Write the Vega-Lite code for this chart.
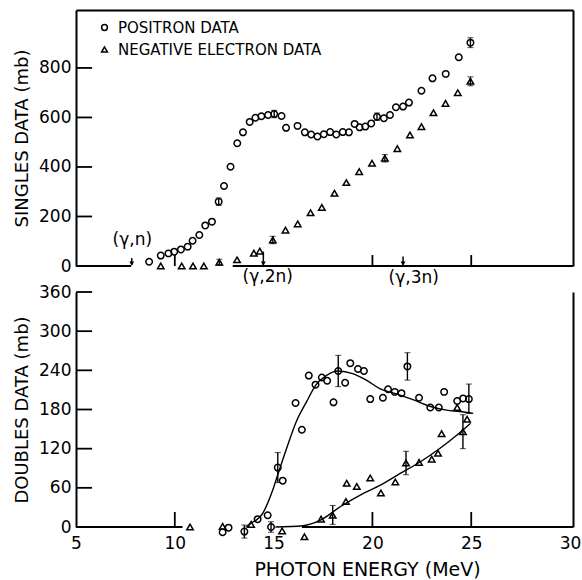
{
  "$schema": "https://vega.github.io/schema/vega-lite/v6.json",
  "background": "white",
  "padding": {"left": 13, "top": 10, "right": 5, "bottom": 5},
  "bounds": "flush",
  "spacing": 26,
  "datasets": {
    "singles": [
      {"E": 8.70, "mb": 17, "series": "POSITRON DATA"},
      {"E": 9.29, "mb": 42, "series": "POSITRON DATA"},
      {"E": 9.68, "mb": 51, "series": "POSITRON DATA"},
      {"E": 9.97, "mb": 58, "series": "POSITRON DATA"},
      {"E": 10.31, "mb": 67, "series": "POSITRON DATA"},
      {"E": 10.65, "mb": 78, "series": "POSITRON DATA"},
      {"E": 10.90, "mb": 102, "series": "POSITRON DATA"},
      {"E": 11.24, "mb": 125, "series": "POSITRON DATA"},
      {"E": 11.54, "mb": 164, "series": "POSITRON DATA"},
      {"E": 11.88, "mb": 179, "series": "POSITRON DATA"},
      {"E": 12.22, "mb": 260, "series": "POSITRON DATA"},
      {"E": 12.49, "mb": 323, "series": "POSITRON DATA"},
      {"E": 12.82, "mb": 401, "series": "POSITRON DATA"},
      {"E": 13.16, "mb": 496, "series": "POSITRON DATA"},
      {"E": 13.45, "mb": 540, "series": "POSITRON DATA"},
      {"E": 13.79, "mb": 582, "series": "POSITRON DATA"},
      {"E": 14.08, "mb": 599, "series": "POSITRON DATA"},
      {"E": 14.38, "mb": 605, "series": "POSITRON DATA"},
      {"E": 14.72, "mb": 610, "series": "POSITRON DATA"},
      {"E": 15.03, "mb": 614, "series": "POSITRON DATA"},
      {"E": 15.40, "mb": 606, "series": "POSITRON DATA"},
      {"E": 15.63, "mb": 558, "series": "POSITRON DATA"},
      {"E": 16.21, "mb": 566, "series": "POSITRON DATA"},
      {"E": 16.58, "mb": 540, "series": "POSITRON DATA"},
      {"E": 16.90, "mb": 531, "series": "POSITRON DATA"},
      {"E": 17.22, "mb": 523, "series": "POSITRON DATA"},
      {"E": 17.54, "mb": 532, "series": "POSITRON DATA"},
      {"E": 17.86, "mb": 541, "series": "POSITRON DATA"},
      {"E": 18.17, "mb": 531, "series": "POSITRON DATA"},
      {"E": 18.50, "mb": 541, "series": "POSITRON DATA"},
      {"E": 18.81, "mb": 540, "series": "POSITRON DATA"},
      {"E": 19.10, "mb": 574, "series": "POSITRON DATA"},
      {"E": 19.35, "mb": 560, "series": "POSITRON DATA"},
      {"E": 19.64, "mb": 563, "series": "POSITRON DATA"},
      {"E": 19.94, "mb": 576, "series": "POSITRON DATA"},
      {"E": 20.23, "mb": 603, "series": "POSITRON DATA"},
      {"E": 20.58, "mb": 597, "series": "POSITRON DATA"},
      {"E": 20.89, "mb": 610, "series": "POSITRON DATA"},
      {"E": 21.19, "mb": 641, "series": "POSITRON DATA"},
      {"E": 21.55, "mb": 644, "series": "POSITRON DATA"},
      {"E": 21.85, "mb": 660, "series": "POSITRON DATA"},
      {"E": 22.48, "mb": 708, "series": "POSITRON DATA"},
      {"E": 23.04, "mb": 758, "series": "POSITRON DATA"},
      {"E": 23.71, "mb": 776, "series": "POSITRON DATA"},
      {"E": 24.37, "mb": 843, "series": "POSITRON DATA"},
      {"E": 24.96, "mb": 902, "series": "POSITRON DATA"},
      {"E": 9.29, "mb": 0, "series": "NEGATIVE ELECTRON DATA"},
      {"E": 10.35, "mb": 0, "series": "NEGATIVE ELECTRON DATA"},
      {"E": 10.92, "mb": 0, "series": "NEGATIVE ELECTRON DATA"},
      {"E": 11.47, "mb": 0, "series": "NEGATIVE ELECTRON DATA"},
      {"E": 12.25, "mb": 15, "series": "NEGATIVE ELECTRON DATA"},
      {"E": 13.15, "mb": 25, "series": "NEGATIVE ELECTRON DATA"},
      {"E": 14.00, "mb": 52, "series": "NEGATIVE ELECTRON DATA"},
      {"E": 14.30, "mb": 60, "series": "NEGATIVE ELECTRON DATA"},
      {"E": 14.96, "mb": 105, "series": "NEGATIVE ELECTRON DATA"},
      {"E": 15.60, "mb": 145, "series": "NEGATIVE ELECTRON DATA"},
      {"E": 16.22, "mb": 170, "series": "NEGATIVE ELECTRON DATA"},
      {"E": 16.87, "mb": 215, "series": "NEGATIVE ELECTRON DATA"},
      {"E": 17.44, "mb": 237, "series": "NEGATIVE ELECTRON DATA"},
      {"E": 18.08, "mb": 294, "series": "NEGATIVE ELECTRON DATA"},
      {"E": 18.68, "mb": 337, "series": "NEGATIVE ELECTRON DATA"},
      {"E": 19.33, "mb": 381, "series": "NEGATIVE ELECTRON DATA"},
      {"E": 19.98, "mb": 415, "series": "NEGATIVE ELECTRON DATA"},
      {"E": 20.63, "mb": 435, "series": "NEGATIVE ELECTRON DATA"},
      {"E": 21.26, "mb": 474, "series": "NEGATIVE ELECTRON DATA"},
      {"E": 21.90, "mb": 529, "series": "NEGATIVE ELECTRON DATA"},
      {"E": 22.48, "mb": 563, "series": "NEGATIVE ELECTRON DATA"},
      {"E": 23.09, "mb": 619, "series": "NEGATIVE ELECTRON DATA"},
      {"E": 23.70, "mb": 657, "series": "NEGATIVE ELECTRON DATA"},
      {"E": 24.32, "mb": 700, "series": "NEGATIVE ELECTRON DATA"},
      {"E": 24.96, "mb": 746, "series": "NEGATIVE ELECTRON DATA"}
    ],
    "singlesErr": [
      {"E": 12.22, "lo": 245, "hi": 275},
      {"E": 15.03, "lo": 599, "hi": 629},
      {"E": 20.23, "lo": 588, "hi": 618},
      {"E": 24.96, "lo": 882, "hi": 922},
      {"E": 12.25, "lo": 3, "hi": 27},
      {"E": 14.96, "lo": 90, "hi": 120},
      {"E": 20.63, "lo": 420, "hi": 450},
      {"E": 24.96, "lo": 728, "hi": 764}
    ],
    "doubles": [
      {"E": 12.42, "mb": -8, "series": "POSITRON DATA"},
      {"E": 12.72, "mb": -1, "series": "POSITRON DATA"},
      {"E": 13.52, "mb": -7, "series": "POSITRON DATA"},
      {"E": 14.19, "mb": 12, "series": "POSITRON DATA"},
      {"E": 14.70, "mb": 18, "series": "POSITRON DATA"},
      {"E": 14.87, "mb": 0, "series": "POSITRON DATA"},
      {"E": 15.21, "mb": 91, "series": "POSITRON DATA"},
      {"E": 15.46, "mb": 71, "series": "POSITRON DATA"},
      {"E": 16.11, "mb": 190, "series": "POSITRON DATA"},
      {"E": 16.43, "mb": 149, "series": "POSITRON DATA"},
      {"E": 16.78, "mb": 232, "series": "POSITRON DATA"},
      {"E": 17.12, "mb": 218, "series": "POSITRON DATA"},
      {"E": 17.44, "mb": 229, "series": "POSITRON DATA"},
      {"E": 17.71, "mb": 224, "series": "POSITRON DATA"},
      {"E": 18.03, "mb": 191, "series": "POSITRON DATA"},
      {"E": 18.27, "mb": 239, "series": "POSITRON DATA"},
      {"E": 18.62, "mb": 221, "series": "POSITRON DATA"},
      {"E": 18.88, "mb": 251, "series": "POSITRON DATA"},
      {"E": 19.27, "mb": 242, "series": "POSITRON DATA"},
      {"E": 19.57, "mb": 239, "series": "POSITRON DATA"},
      {"E": 19.89, "mb": 196, "series": "POSITRON DATA"},
      {"E": 20.53, "mb": 198, "series": "POSITRON DATA"},
      {"E": 20.79, "mb": 211, "series": "POSITRON DATA"},
      {"E": 21.13, "mb": 207, "series": "POSITRON DATA"},
      {"E": 21.47, "mb": 205, "series": "POSITRON DATA"},
      {"E": 21.77, "mb": 246, "series": "POSITRON DATA"},
      {"E": 22.36, "mb": 198, "series": "POSITRON DATA"},
      {"E": 22.93, "mb": 183, "series": "POSITRON DATA"},
      {"E": 23.36, "mb": 183, "series": "POSITRON DATA"},
      {"E": 23.63, "mb": 207, "series": "POSITRON DATA"},
      {"E": 24.29, "mb": 193, "series": "POSITRON DATA"},
      {"E": 24.59, "mb": 197, "series": "POSITRON DATA"},
      {"E": 24.88, "mb": 196, "series": "POSITRON DATA"},
      {"E": 10.77, "mb": 0, "series": "NEGATIVE ELECTRON DATA"},
      {"E": 12.42, "mb": 1, "series": "NEGATIVE ELECTRON DATA"},
      {"E": 13.86, "mb": 4, "series": "NEGATIVE ELECTRON DATA"},
      {"E": 15.43, "mb": -6, "series": "NEGATIVE ELECTRON DATA"},
      {"E": 16.56, "mb": -15, "series": "NEGATIVE ELECTRON DATA"},
      {"E": 17.40, "mb": 12, "series": "NEGATIVE ELECTRON DATA"},
      {"E": 17.99, "mb": 18, "series": "NEGATIVE ELECTRON DATA"},
      {"E": 18.66, "mb": 39, "series": "NEGATIVE ELECTRON DATA"},
      {"E": 18.70, "mb": 67, "series": "NEGATIVE ELECTRON DATA"},
      {"E": 19.21, "mb": 62, "series": "NEGATIVE ELECTRON DATA"},
      {"E": 19.89, "mb": 75, "series": "NEGATIVE ELECTRON DATA"},
      {"E": 20.43, "mb": 52, "series": "NEGATIVE ELECTRON DATA"},
      {"E": 21.16, "mb": 69, "series": "NEGATIVE ELECTRON DATA"},
      {"E": 21.70, "mb": 98, "series": "NEGATIVE ELECTRON DATA"},
      {"E": 22.36, "mb": 99, "series": "NEGATIVE ELECTRON DATA"},
      {"E": 23.00, "mb": 104, "series": "NEGATIVE ELECTRON DATA"},
      {"E": 23.32, "mb": 113, "series": "NEGATIVE ELECTRON DATA"},
      {"E": 23.50, "mb": 143, "series": "NEGATIVE ELECTRON DATA"},
      {"E": 24.29, "mb": 183, "series": "NEGATIVE ELECTRON DATA"},
      {"E": 24.58, "mb": 146, "series": "NEGATIVE ELECTRON DATA"},
      {"E": 24.79, "mb": 165, "series": "NEGATIVE ELECTRON DATA"}
    ],
    "doublesErr": [
      {"E": 13.52, "lo": -17, "hi": 3},
      {"E": 14.87, "lo": -8, "hi": 8},
      {"E": 15.21, "lo": 68, "hi": 114},
      {"E": 18.27, "lo": 215, "hi": 263},
      {"E": 21.77, "lo": 225, "hi": 267},
      {"E": 24.88, "lo": 174, "hi": 219},
      {"E": 17.99, "lo": 4, "hi": 33},
      {"E": 21.70, "lo": 80, "hi": 116},
      {"E": 24.58, "lo": 120, "hi": 172}
    ],
    "fits": [
      {"E": 13.60, "mb": 0, "series": "positron"},
      {"E": 13.77, "mb": 4, "series": "positron"},
      {"E": 14.45, "mb": 21, "series": "positron"},
      {"E": 14.96, "mb": 57, "series": "positron"},
      {"E": 15.21, "mb": 80, "series": "positron"},
      {"E": 15.63, "mb": 118, "series": "positron"},
      {"E": 16.14, "mb": 161, "series": "positron"},
      {"E": 16.67, "mb": 192, "series": "positron"},
      {"E": 17.15, "mb": 218, "series": "positron"},
      {"E": 17.66, "mb": 232, "series": "positron"},
      {"E": 18.27, "mb": 239, "series": "positron"},
      {"E": 19.00, "mb": 235, "series": "positron"},
      {"E": 19.69, "mb": 225, "series": "positron"},
      {"E": 20.37, "mb": 212, "series": "positron"},
      {"E": 21.21, "mb": 204, "series": "positron"},
      {"E": 22.05, "mb": 195, "series": "positron"},
      {"E": 22.90, "mb": 185, "series": "positron"},
      {"E": 23.75, "mb": 179, "series": "positron"},
      {"E": 24.42, "mb": 177, "series": "positron"},
      {"E": 25.10, "mb": 174, "series": "positron"},
      {"E": 15.09, "mb": 0, "series": "negative"},
      {"E": 16.48, "mb": 2, "series": "negative"},
      {"E": 17.35, "mb": 10, "series": "negative"},
      {"E": 18.37, "mb": 31, "series": "negative"},
      {"E": 19.38, "mb": 49, "series": "negative"},
      {"E": 20.40, "mb": 64, "series": "negative"},
      {"E": 21.41, "mb": 82, "series": "negative"},
      {"E": 22.43, "mb": 100, "series": "negative"},
      {"E": 23.44, "mb": 121, "series": "negative"},
      {"E": 24.28, "mb": 141, "series": "negative"},
      {"E": 24.97, "mb": 159, "series": "negative"}
    ],
    "thresholds": [
      {"reaction": "(γ,n)", "E": 7.82, "base": 4, "head": 10, "top": 32, "labelE": 7.85, "labelMb": 105},
      {"reaction": "(γ,2n)", "E": 14.48, "base": 4, "head": 10, "top": 58, "labelE": 14.7, "labelMb": -46},
      {"reaction": "(γ,3n)", "E": 21.55, "base": 4, "head": 10, "top": 38, "labelE": 22.09, "labelMb": -47}
    ],
    "frameTop": [
      {"from": 5, "to": 7.79, "level": 0},
      {"from": 12.93, "to": 30.15, "level": 0}
    ],
    "frameBottom": [
      {"from": 5, "to": 10.39, "level": 0},
      {"from": 16.43, "to": 30.15, "level": 0}
    ],
    "yTicksTop": [{"v": 200}, {"v": 400}, {"v": 600}, {"v": 800}],
    "yTicksBottom": [{"v": 60}, {"v": 120}, {"v": 180}, {"v": 240}, {"v": 300}, {"v": 360}],
    "xTicks": [{"v": 10}, {"v": 20}, {"v": 25}]
  },
  "vconcat": [
    {
      "width": 497,
      "height": 256,
      "resolve": {"axis": {"x": "independent", "y": "independent"}},
      "layer": [
        {
          "data": {"name": "frameTop"},
          "mark": {"type": "rule", "color": "black", "strokeWidth": 2},
          "encoding": {
            "x": {"field": "from", "type": "quantitative", "scale": {"domain": [5, 30.15], "nice": false, "zero": false}, "axis": null},
            "x2": {"field": "to"},
            "y": {"field": "level", "type": "quantitative", "scale": {"domain": [0, 1034], "nice": false, "zero": false}, "axis": null}
          }
        },
        {
          "data": {"name": "yTicksTop"},
          "mark": {"type": "tick", "orient": "horizontal", "size": 16, "thickness": 1.8, "color": "black", "opacity": 1},
          "encoding": {
            "x": {"datum": 5.41, "type": "quantitative", "scale": {"domain": [5, 30.15], "nice": false, "zero": false}, "axis": null},
            "y": {"field": "v", "type": "quantitative", "scale": {"domain": [0, 1034], "nice": false, "zero": false}, "axis": null}
          }
        },
        {
          "data": {"name": "xTicks"},
          "mark": {"type": "tick", "orient": "vertical", "size": 11, "thickness": 1.8, "color": "black", "opacity": 1},
          "encoding": {
            "x": {"field": "v", "type": "quantitative", "scale": {"domain": [5, 30.15], "nice": false, "zero": false}, "axis": null},
            "y": {"datum": 22, "type": "quantitative", "scale": {"domain": [0, 1034], "nice": false, "zero": false}, "axis": null}
          }
        },
        {
          "data": {"name": "singlesErr"},
          "mark": {"type": "errorbar", "ticks": {"size": 6, "color": "black", "strokeWidth": 1.4}, "rule": {"color": "black", "strokeWidth": 1.4}},
          "encoding": {
            "x": {"field": "E", "type": "quantitative", "scale": {"domain": [5, 30.15], "nice": false, "zero": false},
                  "axis": {"orient": "top", "labels": false, "ticks": false, "domain": true, "title": null}},
            "y": {"field": "lo", "type": "quantitative", "scale": {"domain": [0, 1034], "nice": false, "zero": false},
                  "axis": {"orient": "right", "labels": false, "ticks": false, "domain": true, "title": null}},
            "y2": {"field": "hi"}
          }
        },
        {
          "data": {"name": "singles"},
          "mark": {"type": "point", "filled": false, "stroke": "black", "strokeWidth": 1.5, "size": 42, "opacity": 1},
          "encoding": {
            "x": {"field": "E", "type": "quantitative", "scale": {"domain": [5, 30.15], "nice": false, "zero": false}, "axis": null},
            "y": {"field": "mb", "type": "quantitative", "scale": {"domain": [0, 1034], "nice": false, "zero": false},
                  "axis": {"orient": "left", "values": [0, 200, 400, 600, 800], "ticks": false, "labelPadding": 5, "title": "SINGLES DATA (mb)", "titlePadding": 7}},
            "shape": {"field": "series", "type": "nominal",
                      "scale": {"domain": ["POSITRON DATA", "NEGATIVE ELECTRON DATA"], "range": ["circle", "triangle-up"]},
                      "legend": {"orient": "none", "legendX": 21, "legendY": 10, "title": null, "labelFontSize": 15, "labelFont": "DejaVu Sans", "labelColor": "black", "labelLimit": 0,
                                 "symbolSize": 34, "symbolStrokeColor": "black", "symbolFillColor": "white", "symbolStrokeWidth": 1.5, "rowPadding": 6, "labelOffset": 6, "padding": 0}}
          }
        },
        {
          "data": {"name": "thresholds"},
          "mark": {"type": "rule", "color": "black", "strokeWidth": 1.5},
          "encoding": {
            "x": {"field": "E", "type": "quantitative", "scale": {"domain": [5, 30.15], "nice": false, "zero": false}, "axis": null},
            "y": {"field": "base", "type": "quantitative", "scale": {"domain": [0, 1034], "nice": false, "zero": false}, "axis": null},
            "y2": {"field": "top"}
          }
        },
        {
          "data": {"name": "thresholds"},
          "mark": {"type": "point", "shape": "triangle-down", "filled": true, "color": "black", "size": 24, "opacity": 1},
          "encoding": {
            "x": {"field": "E", "type": "quantitative", "scale": {"domain": [5, 30.15], "nice": false, "zero": false}, "axis": null},
            "y": {"field": "head", "type": "quantitative", "scale": {"domain": [0, 1034], "nice": false, "zero": false}, "axis": null}
          }
        },
        {
          "data": {"name": "thresholds"},
          "mark": {"type": "text", "font": "DejaVu Sans", "fontSize": 17, "color": "black", "baseline": "middle", "align": "center"},
          "encoding": {
            "x": {"field": "labelE", "type": "quantitative", "scale": {"domain": [5, 30.15], "nice": false, "zero": false}, "axis": null},
            "y": {"field": "labelMb", "type": "quantitative", "scale": {"domain": [0, 1034], "nice": false, "zero": false}, "axis": null},
            "text": {"field": "reaction"}
          }
        }
      ]
    },
    {
      "width": 497,
      "height": 235,
      "resolve": {"axis": {"x": "independent", "y": "independent"}},
      "layer": [
        {
          "data": {"name": "frameBottom"},
          "mark": {"type": "rule", "color": "black", "strokeWidth": 2},
          "encoding": {
            "x": {"field": "from", "type": "quantitative", "scale": {"domain": [5, 30.15], "nice": false, "zero": false}, "axis": null},
            "x2": {"field": "to"},
            "y": {"field": "level", "type": "quantitative", "scale": {"domain": [0, 360], "nice": false, "zero": false}, "axis": null}
          }
        },
        {
          "data": {"name": "yTicksBottom"},
          "mark": {"type": "tick", "orient": "horizontal", "size": 16, "thickness": 1.8, "color": "black", "opacity": 1},
          "encoding": {
            "x": {"datum": 5.41, "type": "quantitative", "scale": {"domain": [5, 30.15], "nice": false, "zero": false}, "axis": null},
            "y": {"field": "v", "type": "quantitative", "scale": {"domain": [0, 360], "nice": false, "zero": false}, "axis": null}
          }
        },
        {
          "data": {"name": "xTicks"},
          "mark": {"type": "tick", "orient": "vertical", "size": 15, "thickness": 1.8, "color": "black", "opacity": 1},
          "encoding": {
            "x": {"field": "v", "type": "quantitative", "scale": {"domain": [5, 30.15], "nice": false, "zero": false}, "axis": null},
            "y": {"datum": 11.5, "type": "quantitative", "scale": {"domain": [0, 360], "nice": false, "zero": false}, "axis": null}
          }
        },
        {
          "data": {"name": "fits"},
          "mark": {"type": "line", "color": "black", "strokeWidth": 1.4, "interpolate": "monotone"},
          "encoding": {
            "x": {"field": "E", "type": "quantitative", "scale": {"domain": [5, 30.15], "nice": false, "zero": false}, "axis": null},
            "y": {"field": "mb", "type": "quantitative", "scale": {"domain": [0, 360], "nice": false, "zero": false}, "axis": null},
            "detail": {"field": "series", "type": "nominal"}
          }
        },
        {
          "data": {"name": "doublesErr"},
          "mark": {"type": "errorbar", "ticks": {"size": 6, "color": "black", "strokeWidth": 1.4}, "rule": {"color": "black", "strokeWidth": 1.4}},
          "encoding": {
            "x": {"field": "E", "type": "quantitative", "scale": {"domain": [5, 30.15], "nice": false, "zero": false}, "axis": null},
            "y": {"field": "lo", "type": "quantitative", "scale": {"domain": [0, 360], "nice": false, "zero": false},
                  "axis": {"orient": "right", "labels": false, "ticks": false, "domain": true, "title": null}},
            "y2": {"field": "hi"}
          }
        },
        {
          "data": {"name": "doubles"},
          "mark": {"type": "point", "filled": false, "stroke": "black", "strokeWidth": 1.5, "size": 42, "opacity": 1},
          "encoding": {
            "x": {"field": "E", "type": "quantitative", "scale": {"domain": [5, 30.15], "nice": false, "zero": false},
                  "axis": {"orient": "bottom", "values": [5, 10, 15, 20, 25, 30], "domain": false, "ticks": false, "labelPadding": 8,
                           "title": "PHOTON ENERGY (MeV)", "titleFontSize": 19, "titlePadding": 9, "titleX": 291}},
            "y": {"field": "mb", "type": "quantitative", "scale": {"domain": [0, 360], "nice": false, "zero": false},
                  "axis": {"orient": "left", "values": [0, 60, 120, 180, 240, 300, 360], "ticks": false, "labelPadding": 5, "title": "DOUBLES DATA (mb)", "titlePadding": 7}},
            "shape": {"field": "series", "type": "nominal",
                      "scale": {"domain": ["POSITRON DATA", "NEGATIVE ELECTRON DATA"], "range": ["circle", "triangle-up"]},
                      "legend": null}
          }
        }
      ]
    }
  ],
  "resolve": {"scale": {"shape": "independent"}},
  "config": {
    "font": "DejaVu Sans",
    "view": {"stroke": null},
    "axis": {
      "grid": false,
      "labelFont": "DejaVu Sans",
      "labelFontSize": 17,
      "labelColor": "black",
      "labelFlush": false,
      "labelOverlap": false,
      "titleFont": "DejaVu Sans",
      "titleFontSize": 18,
      "titleFontWeight": "normal",
      "titleColor": "black",
      "domainColor": "black",
      "domainWidth": 2,
      "tickColor": "black",
      "tickWidth": 1.8
    }
  }
}
